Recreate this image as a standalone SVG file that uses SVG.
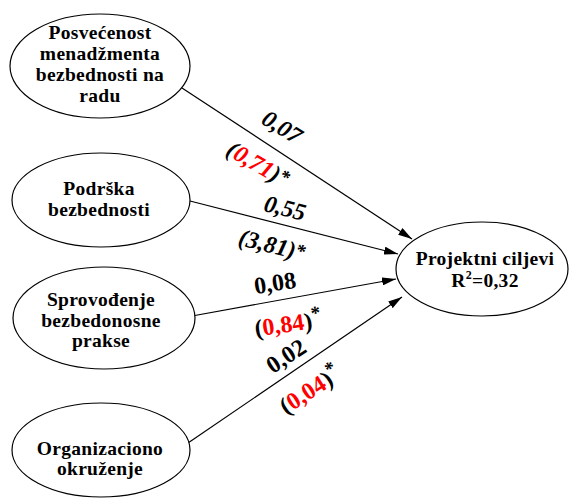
<svg xmlns="http://www.w3.org/2000/svg" width="571" height="500" viewBox="0 0 571 500">
<style>
.node ellipse{fill:#fff;stroke:#000;stroke-width:1.2}
.node text{font-family:"Liberation Serif","Times New Roman",serif;font-weight:bold;font-size:19.5px;letter-spacing:0.3px;text-anchor:middle;fill:#000}
.conn line{stroke:#000;stroke-width:1.2}
.lbl{font-family:"Liberation Serif","Times New Roman",serif;font-weight:bold;font-size:24px;text-anchor:middle;fill:#000}
.it{font-style:italic}
.red{fill:#ff0000}
.star{font-size:19px}
</style>
<defs>
<marker id="arr" viewBox="0 0 14 8" refX="14" refY="4" markerWidth="14" markerHeight="8" markerUnits="userSpaceOnUse" orient="auto">
<path d="M0,0 L14,4 L0,8 Z" fill="#000"/>
</marker>
</defs>
<rect width="571" height="500" fill="#fff"/>
<g id="connectors" class="conn">
<line x1="182" y1="88" x2="412" y2="239" marker-end="url(#arr)"/>
<line x1="190" y1="201" x2="398" y2="254" marker-end="url(#arr)"/>
<line x1="192" y1="316" x2="396" y2="279" marker-end="url(#arr)"/>
<line x1="188" y1="443" x2="402" y2="297" marker-end="url(#arr)"/>
</g>
<g id="n1" class="node">
<ellipse cx="100" cy="66" rx="90" ry="52"/>
<text x="100" y="39">Posvećenost</text>
<text x="100" y="60">menadžmenta</text>
<text x="100" y="81">bezbednosti na</text>
<text x="100" y="102">radu</text>
</g>
<g id="n2" class="node">
<ellipse cx="101" cy="200" rx="89" ry="47"/>
<text x="99" y="195">Podrška</text>
<text x="99" y="216">bezbednosti</text>
</g>
<g id="n3" class="node">
<ellipse cx="104" cy="318" rx="91" ry="51"/>
<text x="101" y="306">Sprovođenje</text>
<text x="101" y="327">bezbedonosne</text>
<text x="101" y="347">prakse</text>
</g>
<g id="n4" class="node">
<ellipse cx="101" cy="450" rx="89" ry="47"/>
<text x="100" y="455">Organizaciono</text>
<text x="100" y="475">okruženje</text>
</g>
<g id="target" class="node">
<ellipse cx="482" cy="269" rx="86" ry="47"/>
<text x="485" y="265">Projektni ciljevi</text>
<text x="485" y="287">R<tspan font-size="12" dy="-8">2</tspan><tspan dy="8">=0,32</tspan></text>
</g>
<g id="labels">
<text class="lbl it" transform="translate(282,127) rotate(32)" x="0" y="8">0,07</text>
<text class="lbl it" transform="translate(258,164) rotate(30)" x="0" y="8">(<tspan class="red">0,71</tspan>)<tspan class="star" dy="-4">*</tspan></text>
<text class="lbl it" transform="translate(285,208) rotate(14)" x="0" y="8">0,55</text>
<text class="lbl it" transform="translate(272,245) rotate(14)" x="0" y="8">(3,81)<tspan class="star" dy="-3">*</tspan></text>
<text class="lbl" transform="translate(275,283) rotate(-9)" x="0" y="8">0,08</text>
<text class="lbl" transform="translate(288,324) rotate(-8)" x="0" y="8">(<tspan class="red">0,84</tspan>)<tspan class="star" dy="-9">*</tspan></text>
<text class="lbl" transform="translate(286,356) rotate(-33)" x="0" y="8">0,02</text>
<text class="lbl" transform="translate(310,390) rotate(-33)" x="0" y="8">(<tspan class="red">0,04</tspan>)<tspan class="star" dy="-9">*</tspan></text>
</g>
</svg>
